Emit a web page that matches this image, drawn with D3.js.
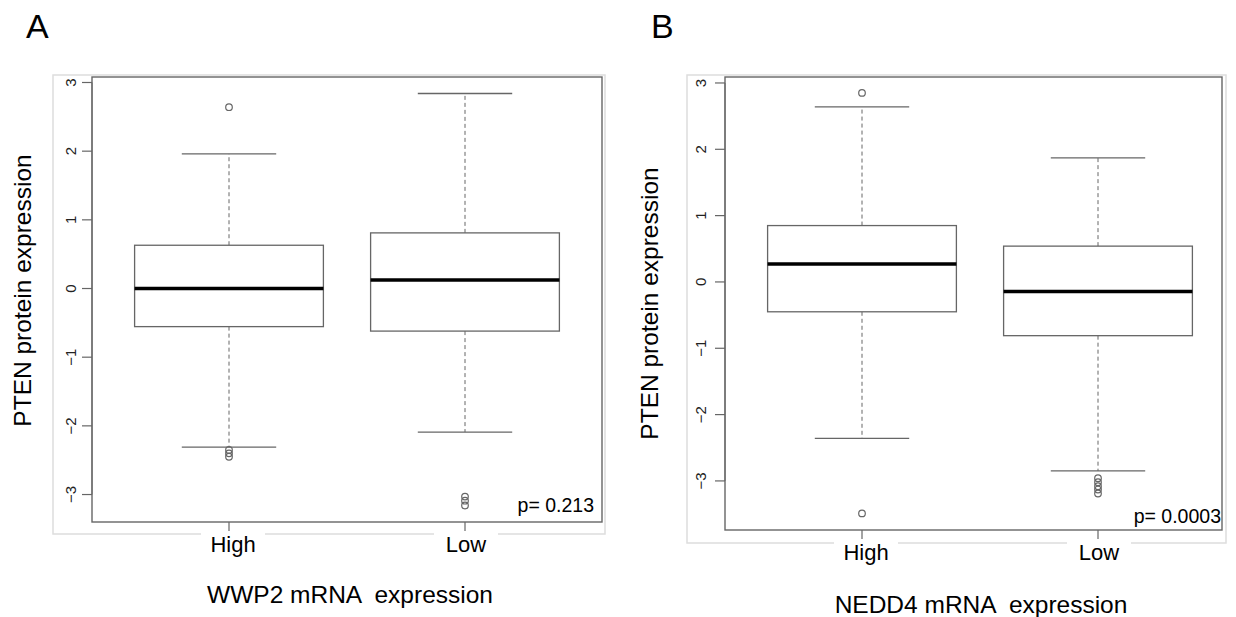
<!DOCTYPE html>
<html>
<head>
<meta charset="utf-8">
<script src="https://cdn.jsdelivr.net/npm/d3@7"></script>
<style>
  body { margin: 0; background: #fff; }
  svg { display: block; font-family: "Liberation Sans", Arial, sans-serif; }
</style>
</head>
<body>
<svg id="chart" width="1236" height="617"></svg>
<script>
// groups on the x axis
const groups = ["High", "Low"];
const yTicks = [-3, -2, -1, 0, 1, 2, 3];

// box stats per group: [lower whisker, Q1, median, Q3, upper whisker]
const wwp2Box = [
  [-2.31, -0.555, 0.0, 0.63, 1.96],
  [-2.09, -0.62, 0.125, 0.81, 2.84]
];
const wwp2Outliers = [
  [2.64, -2.35, -2.40, -2.45],
  [-3.03, -3.09, -3.16]
];

const nedd4Box = [
  [-2.36, -0.45, 0.27, 0.85, 2.64],
  [-2.85, -0.81, -0.145, 0.54, 1.87]
];
const nedd4Outliers = [
  [2.85, -3.49],
  [-2.96, -3.02, -3.08, -3.13, -3.19]
];

const panelLetters = ["A", "B"];
const xTitles = ["WWP2 mRNA  expression", "NEDD4 mRNA  expression"];
const yTitle = "PTEN protein expression";
const pValues = ["p= 0.213", "p= 0.0003"];

// layout of the two panels (pixels)
const panels = [
  { box: wwp2Box, out: wwp2Outliers, left: 92, right: 602, top: 77, bottom: 522,
    centers: [229, 465], yDomain: [-3.40, 3.08],
    frame: [53, 75, 605, 534], letterX: 26, yTitleX: 31, tickLabX: 76,
    titleX: 350, titleY: 603, pX: 594, pY: 512, labShift: [4, 1] },
  { box: nedd4Box, out: nedd4Outliers, left: 725, right: 1222, top: 77, bottom: 530,
    centers: [862, 1098], yDomain: [-3.74, 3.09],
    frame: [687, 75, 1226, 543], letterX: 651, yTitleX: 658, tickLabX: 705.5,
    titleX: 981, titleY: 613, pX: 1221, pY: 523, labShift: [4, 1] }
];

const svg = d3.select("#chart");
const grey = "#666";

panels.forEach(function(p, pi) {
  const g = svg.append("g");

  const x = d3.scaleLinear().domain([1, 2]).range(p.centers);
  const unit = x(2) - x(1);
  const y = d3.scaleLinear().domain(p.yDomain).range([p.bottom, p.top]);

  // light outer frame of the pasted figure
  const f = p.frame;
  g.append("rect")
    .attr("x", f[0]).attr("y", f[1])
    .attr("width", f[2] - f[0]).attr("height", f[3] - f[1])
    .attr("fill", "none").attr("stroke", "#ddd").attr("stroke-width", 1.5);

  // panel letter
  g.append("text")
    .attr("x", p.letterX).attr("y", 38)
    .attr("font-size", 34)
    .text(panelLetters[pi]);

  // y axis (R style, rotated labels)
  const yAxis = g.append("g");
  yAxis.append("line")
    .attr("x1", p.left).attr("x2", p.left)
    .attr("y1", y(-3)).attr("y2", y(3))
    .attr("stroke", grey);
  yAxis.selectAll(".tick")
    .data(yTicks).enter().append("line")
    .attr("x1", p.left - 10).attr("x2", p.left)
    .attr("y1", d => y(d)).attr("y2", d => y(d))
    .attr("stroke", grey).attr("stroke-width", 1.2);
  yAxis.selectAll(".tlab")
    .data(yTicks).enter().append("text")
    .attr("transform", d => `translate(${p.tickLabX},${y(d)}) rotate(-90)`)
    .attr("text-anchor", "middle")
    .attr("font-size", 15)
    .attr("fill", "#222")
    .text(d => d < 0 ? "\u2212" + Math.abs(d) : d);

  // y title
  g.append("text")
    .attr("transform", `translate(${p.yTitleX},${(p.top + p.bottom) / 2 - (pi === 0 ? 9 : 0)}) rotate(-90)`)
    .attr("text-anchor", "middle")
    .attr("font-size", 24.5)
    .text(yTitle);

  // x tick marks and group labels (white backing over the frame)
  groups.forEach(function(name, i) {
    g.append("line")
      .attr("x1", x(i + 1)).attr("x2", x(i + 1))
      .attr("y1", p.bottom).attr("y2", p.bottom + 9)
      .attr("stroke", grey).attr("stroke-width", 1.2);
    const cx = x(i + 1) + p.labShift[i];
    g.append("rect")
      .attr("x", cx - 32).attr("y", p.bottom + 10)
      .attr("width", 64).attr("height", 30)
      .attr("fill", "#fff");
    g.append("text")
      .attr("x", cx).attr("y", p.bottom + 30)
      .attr("text-anchor", "middle")
      .attr("font-size", 22)
      .text(name);
  });

  // x title
  g.append("text")
    .attr("x", p.titleX).attr("y", p.titleY)
    .attr("text-anchor", "middle")
    .attr("font-size", 24.5)
    .style("white-space", "pre")
    .text(xTitles[pi]);

  // boxes
  const half = unit * 0.4;
  const staple = unit * 0.2;
  p.box.forEach(function(s, i) {
    const cx = x(i + 1);
    const bg = g.append("g");
    // whiskers
    bg.append("line")
      .attr("x1", cx).attr("x2", cx).attr("y1", y(s[3])).attr("y2", y(s[4]))
      .attr("stroke", grey).attr("stroke-dasharray", "4,3");
    bg.append("line")
      .attr("x1", cx).attr("x2", cx).attr("y1", y(s[1])).attr("y2", y(s[0]))
      .attr("stroke", grey).attr("stroke-dasharray", "4,3");
    // staples
    [s[0], s[4]].forEach(v => {
      bg.append("line")
        .attr("x1", cx - staple).attr("x2", cx + staple)
        .attr("y1", y(v)).attr("y2", y(v))
        .attr("stroke", grey).attr("stroke-width", 1.3);
    });
    // box
    bg.append("rect")
      .attr("x", cx - half).attr("y", y(s[3]))
      .attr("width", half * 2).attr("height", y(s[1]) - y(s[3]))
      .attr("fill", "#fff").attr("stroke", grey).attr("stroke-width", 1.3);
    // median
    bg.append("line")
      .attr("x1", cx - half).attr("x2", cx + half)
      .attr("y1", y(s[2])).attr("y2", y(s[2]))
      .attr("stroke", "#000").attr("stroke-width", 3.5);
    // outliers
    bg.selectAll("circle")
      .data(p.out[i]).enter().append("circle")
      .attr("cx", cx).attr("cy", d => y(d)).attr("r", 3.3)
      .attr("fill", "none").attr("stroke", grey).attr("stroke-width", 1.2);
  });

  // plot border
  g.append("rect")
    .attr("x", p.left).attr("y", p.top)
    .attr("width", p.right - p.left).attr("height", p.bottom - p.top)
    .attr("fill", "none").attr("stroke", grey).attr("stroke-width", 1.4);

  // p value
  g.append("text")
    .attr("x", p.pX).attr("y", p.pY)
    .attr("text-anchor", "end")
    .attr("font-size", 19.5)
    .text(pValues[pi]);
});
</script>
</body>
</html>
